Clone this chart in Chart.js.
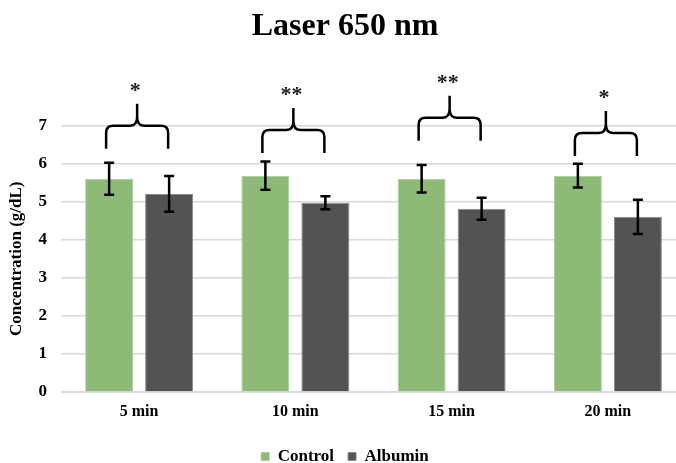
<!DOCTYPE html>
<html>
<head>
<meta charset="utf-8">
<script src="https://cdn.jsdelivr.net/npm/chart.js@4.4.1/dist/chart.umd.min.js"></script>
<style>
  html, body { margin:0; padding:0; background:#fff; overflow:hidden; }
  #wrap { width:690px; height:463px; }
</style>
</head>
<body>
<div id="wrap"><canvas id="laserChart" width="690" height="463"></canvas></div>
<script>
const categories = ['5 min', '10 min', '15 min', '20 min'];
const controlVals = [5.6, 5.68, 5.6, 5.68];
const controlErr  = [0.42, 0.37, 0.36, 0.31];
const albuminVals = [5.2, 4.97, 4.81, 4.6];
const albuminErr  = [0.47, 0.17, 0.29, 0.45];
// significance marks and the level of each bracket (g/dL)
const sigMarks  = ['*', '**', '**', '*'];
const sigLevel  = [6.99, 6.88, 7.2, 6.8];
const yTicks    = [0, 1, 2, 3, 4, 5, 6, 7];

const SERIF = '"Liberation Serif", "Times New Roman", serif';

// error bars drawn on top of each bar
const errorBars = {
  id: 'errorBars',
  afterDatasetsDraw(chart) {
    const ctx = chart.ctx;
    const y = chart.scales.y;
    const errs = [controlErr, albuminErr];
    ctx.save();
    ctx.strokeStyle = '#000';
    ctx.lineWidth = 2.5;
    chart.data.datasets.forEach((ds, di) => {
      chart.getDatasetMeta(di).data.forEach((bar, i) => {
        const v = ds.data[i], e = errs[di][i];
        const top = y.getPixelForValue(v + e), bot = y.getPixelForValue(v - e);
        ctx.beginPath();
        ctx.moveTo(bar.x, top); ctx.lineTo(bar.x, bot);
        ctx.moveTo(bar.x - 5, top); ctx.lineTo(bar.x + 5, top);
        ctx.moveTo(bar.x - 5, bot); ctx.lineTo(bar.x + 5, bot);
        ctx.stroke();
      });
    });
    ctx.restore();
  }
};

// curly brackets with significance stars
const sigBrackets = {
  id: 'sigBrackets',
  afterDraw(chart) {
    const ctx = chart.ctx;
    const y = chart.scales.y;
    const m0 = chart.getDatasetMeta(0).data, m1 = chart.getDatasetMeta(1).data;
    ctx.save();
    ctx.strokeStyle = '#000';
    ctx.lineWidth = 2.5;
    ctx.lineJoin = 'round';
    sigMarks.forEach((mark, i) => {
      const xl = m0[i].x - 3, xr = m1[i].x - 1;
      const xc = (xl + xr) / 2;
      const h = y.getPixelForValue(sigLevel[i]);
      const endY = h + 23, peak = h - 22, r = 7;
      ctx.beginPath();
      ctx.moveTo(xl, endY);
      ctx.lineTo(xl, h + r);
      ctx.quadraticCurveTo(xl, h, xl + r, h);
      ctx.lineTo(xc - 7, h);
      ctx.quadraticCurveTo(xc, h, xc, h - 9);
      ctx.lineTo(xc, peak);
      ctx.moveTo(xc, h - 9);
      ctx.quadraticCurveTo(xc, h, xc + 7, h);
      ctx.lineTo(xr - r, h);
      ctx.quadraticCurveTo(xr, h, xr, h + r);
      ctx.lineTo(xr, endY);
      ctx.stroke();
      ctx.fillStyle = '#222';
      ctx.font = 'bold 22px ' + SERIF;
      ctx.textAlign = 'center';
      ctx.textBaseline = 'alphabetic';
      ctx.fillText(mark, xc - 2, peak - 7);
    });
    ctx.restore();
  }
};

new Chart(document.getElementById('laserChart'), {
  type: 'bar',
  data: {
    labels: categories,
    datasets: [
      { label: 'Control', data: controlVals, backgroundColor: '#8EBA78', borderColor: '#A9CC97', borderWidth: 1,
        categoryPercentage: 0.768, barPercentage: 0.8 },
      { label: 'Albumin', data: albuminVals, backgroundColor: '#535353', borderColor: '#8a8a8a', borderWidth: 1,
        categoryPercentage: 0.768, barPercentage: 0.8 }
    ]
  },
  options: {
    responsive: false,
    animation: false,
    devicePixelRatio: 1,
    layout: { padding: { top: 0, left: 4, right: 4, bottom: -12 } },
    plugins: {
      title: {
        display: true, text: 'Laser 650 nm', color: '#000',
        font: { family: SERIF, size: 32, weight: 'bold' },
        padding: { top: 8, bottom: 79 }
      },
      legend: {
        position: 'bottom',
        labels: {
          color: '#000', boxWidth: 8, boxHeight: 8, padding: 14,
          font: { family: SERIF, size: 17, weight: 'bold' }
        }
      },
      tooltip: { enabled: false }
    },
    scales: {
      x: {
        grid: { display: false, drawTicks: false },
        border: { color: '#d9d9d9' },
        ticks: { color: '#000', font: { family: SERIF, size: 16, weight: 'bold' }, padding: 10 },
        afterFit: s => { s.height = 42; }
      },
      y: {
        min: 0, max: 7,
        afterBuildTicks: s => { s.ticks = yTicks.map(v => ({ value: v })); },
        afterFit: s => { s.width = 57; },
        grid: { color: '#d9d9d9', lineWidth: 1.5, drawTicks: false },
        border: { display: false },
        ticks: { color: '#000', padding: 14, font: { family: SERIF, size: 17, weight: 'bold' } },
        title: {
          display: true, text: 'Concentration (g/dL)', color: '#000',
          font: { family: SERIF, size: 17, weight: 'bold' }, padding: 2
        }
      }
    }
  },
  plugins: [errorBars, sigBrackets]
});
</script>
</body>
</html>
